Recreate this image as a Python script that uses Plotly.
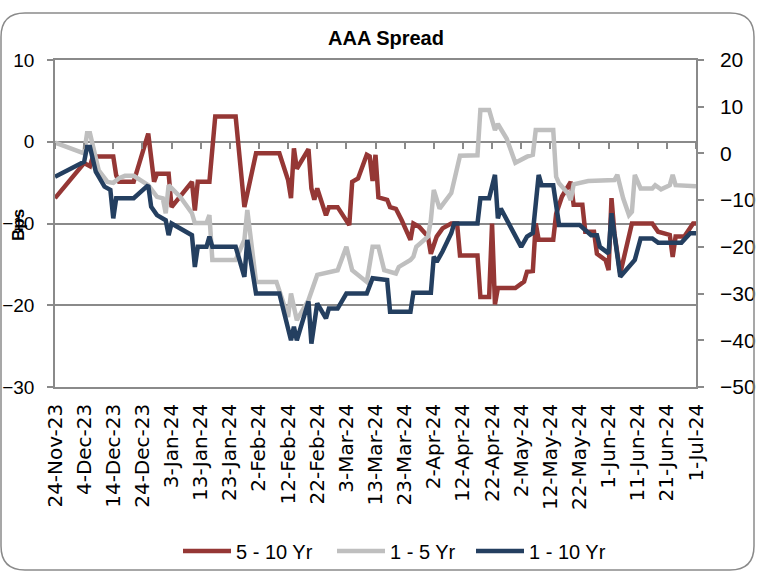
import plotly.graph_objects as go

# ---- data -------------------------------------------------------------
RED_DATES = ["2023-11-24", "2023-12-04", "2023-12-06", "2023-12-07", "2023-12-14", "2023-12-15",
             "2023-12-16", "2023-12-21", "2023-12-26", "2023-12-28", "2023-12-29", "2024-01-02",
             "2024-01-03", "2024-01-10", "2024-01-11", "2024-01-12", "2024-01-16", "2024-01-18",
             "2024-01-25", "2024-01-28", "2024-02-01", "2024-02-09", "2024-02-12", "2024-02-13",
             "2024-02-14", "2024-02-15", "2024-02-19", "2024-02-20", "2024-02-21", "2024-02-22",
             "2024-02-25", "2024-02-26", "2024-02-29", "2024-03-04", "2024-03-05", "2024-03-07",
             "2024-03-10", "2024-03-11", "2024-03-12", "2024-03-13", "2024-03-14", "2024-03-17",
             "2024-03-18", "2024-03-20", "2024-03-22", "2024-03-25", "2024-03-26", "2024-03-28",
             "2024-03-31", "2024-04-01", "2024-04-03", "2024-04-05", "2024-04-08", "2024-04-10",
             "2024-04-11", "2024-04-17", "2024-04-18", "2024-04-21", "2024-04-22", "2024-04-23",
             "2024-04-24", "2024-04-30", "2024-05-03", "2024-05-04", "2024-05-06", "2024-05-07",
             "2024-05-08", "2024-05-13", "2024-05-14", "2024-05-16", "2024-05-19", "2024-05-20",
             "2024-05-23", "2024-05-24", "2024-05-27", "2024-05-28", "2024-05-31", "2024-06-01",
             "2024-06-02", "2024-06-03", "2024-06-05", "2024-06-07", "2024-06-09", "2024-06-16",
             "2024-06-18", "2024-06-22", "2024-06-23", "2024-06-24", "2024-06-27", "2024-06-30",
             "2024-07-01"]
RED_VALUES = [-6.9, -2.6, -3.0, -1.8, -1.8, -4.1,
              -4.9, -4.9, 1.0, -4.9, -3.9, -3.9,
              -8.0, -4.9, -8.4, -4.9, -4.9, 3.1,
              3.1, -8.0, -1.4, -1.4, -4.7, -6.9,
              -0.8, -3.3, -0.9, -5.7, -7.1, -5.7,
              -9.0, -8.0, -8.0, -10.2, -4.9, -4.5,
              -1.6, -1.8, -4.8, -1.6, -6.8, -7.1,
              -8.0, -8.2, -9.6, -12.0, -10.0, -10.4,
              -11.6, -13.7, -11.6, -10.6, -10.0, -10.0,
              -13.9, -13.9, -19.0, -19.0, -10.0, -19.9,
              -17.9, -17.9, -17.1, -15.9, -15.8, -10.0,
              -12.0, -12.0, -8.8, -6.7, -4.9, -7.7,
              -7.7, -11.0, -11.0, -13.7, -14.5, -15.7,
              -6.9, -11.2, -16.1, -12.9, -10.0, -10.0,
              -11.0, -11.4, -14.1, -11.6, -11.6, -10.0,
              -10.0]

GRAY_DATES = ["2023-11-24", "2023-12-04", "2023-12-05", "2023-12-06", "2023-12-09", "2023-12-12",
              "2023-12-14", "2023-12-16", "2023-12-18", "2023-12-21", "2023-12-26", "2023-12-29",
              "2023-12-31", "2024-01-01", "2024-01-02", "2024-01-06", "2024-01-10", "2024-01-11",
              "2024-01-15", "2024-01-16", "2024-01-17", "2024-01-25", "2024-01-28", "2024-01-29",
              "2024-02-01", "2024-02-08", "2024-02-12", "2024-02-13", "2024-02-15", "2024-02-19",
              "2024-02-22", "2024-02-26", "2024-02-29", "2024-03-03", "2024-03-05", "2024-03-10",
              "2024-03-11", "2024-03-12", "2024-03-14", "2024-03-16", "2024-03-20", "2024-03-21",
              "2024-03-25", "2024-03-26", "2024-03-27", "2024-03-31", "2024-04-01", "2024-04-02",
              "2024-04-04", "2024-04-08", "2024-04-11", "2024-04-17", "2024-04-18", "2024-04-21",
              "2024-04-23", "2024-04-24", "2024-04-27", "2024-04-30", "2024-05-04", "2024-05-06",
              "2024-05-07", "2024-05-13", "2024-05-14", "2024-05-15", "2024-05-18", "2024-05-19",
              "2024-05-20", "2024-05-25", "2024-06-03", "2024-06-04", "2024-06-06", "2024-06-08",
              "2024-06-09", "2024-06-10", "2024-06-12", "2024-06-16", "2024-06-17", "2024-06-19",
              "2024-06-22", "2024-06-23", "2024-06-24", "2024-07-01"]
GRAY_VALUES = [2.3, 0.0, 4.3, 4.3, -3.6, -6.1,
               -6.3, -5.3, -4.8, -4.8, -6.8, -9.3,
               -9.6, -12.8, -6.8, -9.3, -12.8, -14.9,
               -14.9, -13.2, -22.8, -22.8, -18.5, -12.1,
               -27.5, -27.5, -35.0, -30.0, -35.7, -31.4,
               -26.0, -25.3, -25.0, -20.0, -25.0, -27.5,
               -24.3, -20.0, -20.0, -25.0, -25.7, -24.3,
               -22.8, -22.1, -20.0, -17.8, -14.3, -7.8,
               -11.8, -8.5, -0.5, -0.4, 9.3, 9.3,
               5.0, 6.3, 3.2, -2.0, -0.7, -0.3,
               5.0, 5.0, -5.0, -6.4, -8.5, -10.0,
               -6.6, -5.9, -5.7, -4.6, -9.6, -13.2,
               -12.5, -4.6, -7.5, -7.5, -6.8, -7.7,
               -6.8, -4.6, -6.8, -7.0]

BLUE_DATES = ["2023-11-24", "2023-12-04", "2023-12-05", "2023-12-06", "2023-12-08", "2023-12-11",
              "2023-12-13", "2023-12-14", "2023-12-15", "2023-12-21", "2023-12-26", "2023-12-27",
              "2023-12-29", "2024-01-01", "2024-01-02", "2024-01-03", "2024-01-10", "2024-01-11",
              "2024-01-12", "2024-01-15", "2024-01-16", "2024-01-17", "2024-01-25", "2024-01-28",
              "2024-01-29", "2024-02-01", "2024-02-09", "2024-02-13", "2024-02-14", "2024-02-15",
              "2024-02-19", "2024-02-20", "2024-02-22", "2024-02-25", "2024-02-26", "2024-02-29",
              "2024-03-03", "2024-03-10", "2024-03-12", "2024-03-17", "2024-03-18", "2024-03-25",
              "2024-03-26", "2024-04-01", "2024-04-02", "2024-04-03", "2024-04-05", "2024-04-08",
              "2024-04-09", "2024-04-17", "2024-04-18", "2024-04-21", "2024-04-23", "2024-04-24",
              "2024-04-25", "2024-05-02", "2024-05-04", "2024-05-06", "2024-05-08", "2024-05-09",
              "2024-05-13", "2024-05-15", "2024-05-22", "2024-05-26", "2024-05-28", "2024-05-29",
              "2024-06-01", "2024-06-02", "2024-06-05", "2024-06-08", "2024-06-10", "2024-06-12",
              "2024-06-16", "2024-06-18", "2024-06-26", "2024-06-29", "2024-07-01"]
BLUE_VALUES = [-5.0, -1.8, 1.4, 1.4, -3.9, -7.1,
               -7.8, -13.9, -9.6, -9.6, -6.8, -11.4,
               -13.2, -14.3, -17.5, -15.0, -17.5, -24.3,
               -20.0, -20.0, -17.8, -20.0, -20.0, -26.4,
               -18.5, -30.0, -30.0, -40.0, -37.1, -40.0,
               -31.7, -40.7, -32.1, -35.3, -33.2, -33.2,
               -30.0, -30.0, -26.7, -27.1, -33.9, -33.9,
               -29.8, -29.8, -22.1, -23.2, -21.0, -17.1,
               -15.0, -15.0, -9.6, -9.6, -4.6, -13.9,
               -11.8, -20.0, -17.8, -17.0, -4.6, -6.8,
               -6.8, -15.3, -15.3, -17.5, -17.5, -20.0,
               -21.4, -12.8, -26.4, -24.3, -22.8, -18.2,
               -18.2, -19.1, -19.1, -17.1, -17.1]

SERIES_NAMES = ["5 - 10 Yr", "1 - 5 Yr", "1 - 10 Yr"]

TICK_DATES = ["2023-11-24", "2023-12-04", "2023-12-14", "2023-12-24", "2024-01-03", "2024-01-13",
              "2024-01-23", "2024-02-02", "2024-02-12", "2024-02-22", "2024-03-03", "2024-03-13",
              "2024-03-23", "2024-04-02", "2024-04-12", "2024-04-22", "2024-05-02", "2024-05-12",
              "2024-05-22", "2024-06-01", "2024-06-11", "2024-06-21", "2024-07-01"]
TICK_LABELS = ["24-Nov-23", "4-Dec-23", "14-Dec-23", "24-Dec-23", "3-Jan-24", "13-Jan-24",
               "23-Jan-24", "2-Feb-24", "12-Feb-24", "22-Feb-24", "3-Mar-24", "13-Mar-24",
               "23-Mar-24", "2-Apr-24", "12-Apr-24", "22-Apr-24", "2-May-24", "12-May-24",
               "22-May-24", "1-Jun-24", "11-Jun-24", "21-Jun-24", "1-Jul-24"]

LEFT_RANGE = [-30, 10]
RIGHT_RANGE = [-50, 20]
X_RANGE = [TICK_DATES[0], TICK_DATES[-1]]

# ---- page geometry (pixels) -------------------------------------------
W, H = 762, 571
ML, MR, MT, MB = 55, 66, 60, 184
PW, PH = W - ML - MR, H - MT - MB


def px(X):
    return (X - ML) / PW


def py(Y):
    return (H - MB - Y) / PH


GRID = "#8a8a8a"
RED, GRAY, BLUE = "#953735", "#bfbfbf", "#243f60"
FONT = "Liberation Sans"

fig = go.Figure()
fig.add_trace(go.Scatter(x=RED_DATES, y=RED_VALUES, name=SERIES_NAMES[0], mode="lines",
                         line=dict(color=RED, width=4.5), yaxis="y", legend="legend"))
fig.add_trace(go.Scatter(x=GRAY_DATES, y=GRAY_VALUES, name=SERIES_NAMES[1], mode="lines",
                         line=dict(color=GRAY, width=4.5), yaxis="y2", legend="legend2"))
fig.add_trace(go.Scatter(x=BLUE_DATES, y=BLUE_VALUES, name=SERIES_NAMES[2], mode="lines",
                         line=dict(color=BLUE, width=4.5), yaxis="y2", legend="legend3"))
# empty trace that carries the tick-mark axis along the zero line
fig.add_trace(go.Scatter(x=[], y=[], xaxis="x2", yaxis="y", showlegend=False,
                         hoverinfo="skip"))

# rounded outer frame
X0, Y0, X1, Y1, R = 1, 13, 754, 570, 24
frame = (f"M {px(X0 + R)},{py(Y0)} L {px(X1 - R)},{py(Y0)} "
         f"Q {px(X1)},{py(Y0)} {px(X1)},{py(Y0 + R)} L {px(X1)},{py(Y1 - R)} "
         f"Q {px(X1)},{py(Y1)} {px(X1 - R)},{py(Y1)} L {px(X0 + R)},{py(Y1)} "
         f"Q {px(X0)},{py(Y1)} {px(X0)},{py(Y1 - R)} L {px(X0)},{py(Y0 + R)} "
         f"Q {px(X0)},{py(Y0)} {px(X0 + R)},{py(Y0)} Z")


def legend_at(x_px):
    return dict(orientation="h", xref="container", yref="container",
                x=x_px / W, xanchor="left", y=1 - 551 / H, yanchor="middle",
                font=dict(family=FONT, size=20, color="black"),
                itemwidth=48, bgcolor="rgba(0,0,0,0)")


fig.update_layout(
    width=W, height=H,
    margin=dict(l=ML, r=MR, t=MT, b=MB, pad=0),
    paper_bgcolor="white", plot_bgcolor="white",
    font=dict(family=FONT, size=20, color="black"),
    title=dict(text="<b>AAA Spread</b>", xref="container", yref="container",
               x=386 / W, xanchor="center", y=1 - 38 / H, yanchor="middle",
               font=dict(family=FONT, size=20, color="black")),
    xaxis=dict(type="date", range=X_RANGE, tickmode="array", tickvals=TICK_DATES,
               ticktext=TICK_LABELS, tickangle=-90, ticks="", showgrid=False,
               zeroline=False, showline=True, mirror=True, linecolor=GRID, linewidth=1.5,
               tickfont=dict(family="DejaVu Sans", size=20, color="black"),
               ticklabelstandoff=7, automargin=False),
    xaxis2=dict(type="date", range=X_RANGE, overlaying="x", anchor="free",
                position=(0 - LEFT_RANGE[0]) / (LEFT_RANGE[1] - LEFT_RANGE[0]),
                side="bottom", tickmode="array", tickvals=TICK_DATES, ticks="outside",
                ticklen=6, tickwidth=1.5, tickcolor=GRID, showticklabels=False,
                showgrid=False, zeroline=False, showline=False, automargin=False),
    yaxis=dict(range=LEFT_RANGE, dtick=10, tick0=0, showgrid=True, gridcolor=GRID,
               gridwidth=1.5, zeroline=False, showline=True, linecolor=GRID, linewidth=1.5,
               ticks="outside", ticklen=6, tickwidth=1.5, tickcolor=GRID,
               tickfont=dict(family=FONT, size=19, color="black"), ticklabelstandoff=9,
               automargin=False),
    yaxis2=dict(range=RIGHT_RANGE, dtick=10, tick0=0, overlaying="y", side="right",
                showgrid=False, zeroline=False, showline=True, linecolor=GRID, linewidth=1.5,
                ticks="outside", ticklen=6, tickwidth=1.5, tickcolor=GRID,
                tickfont=dict(family=FONT, size=21, color="black"), ticklabelstandoff=12,
                automargin=False),
    legend=legend_at(178),
    legend2=legend_at(332),
    legend3=legend_at(471),
    showlegend=True,
    annotations=[dict(text="<b>Bps</b>", xref="paper", yref="paper", x=px(18), y=py(225),
                      xanchor="center", yanchor="middle", textangle=-90, showarrow=False,
                      font=dict(family=FONT, size=17, color="black"))],
    shapes=[dict(type="path", xref="paper", yref="paper", path=frame,
                 line=dict(color=GRID, width=1.5), layer="above")],
)

fig.write_html("out.html")
